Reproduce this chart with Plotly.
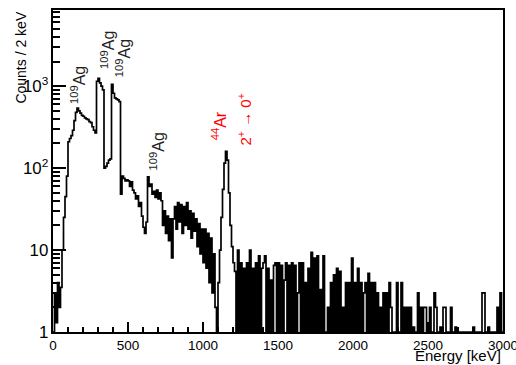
import plotly.graph_objects as go

# Gamma-ray energy spectrum, 10 keV display bins from 0 to 3000 keV
bin_width = 10
e_min, e_max = 0, 3000

counts_0000_0250 = [1.0, 3.0, 1.3, 4.0, 2.0, 3.5, 10, 25, 45, 80, 210, 230, 250, 290, 380,
                    480, 540, 500, 470, 440, 430, 410, 400, 390, 370]
counts_0250_0500 = [360, 320, 290, 270, 1150, 1250, 1100, 1000, 900, 100, 105, 115, 125, 130,
                    1050, 820, 720, 700, 680, 650, 48, 80, 75, 70, 72]
counts_0500_0750 = [70, 60, 68, 54, 50, 42, 46, 34, 38, 26, 19, 16, 22, 78, 60, 64, 48, 52,
                    44, 54, 42, 50, 40, 20, 30]
counts_0750_1000 = [16, 26, 13, 24, 8, 24, 34, 18, 38, 22, 36, 16, 34, 20, 38, 18, 30, 14,
                    28, 17, 24, 11, 21, 9, 18]
counts_1000_1250 = [7, 18, 6, 16, 4, 14, 3, 9, 2, 1, 4, 10, 25, 55, 115, 160, 125, 50, 20,
                    11, 7, 5.5, 1, 10, 1]
counts_1250_1500 = [7, 1, 6, 1, 7, 1, 10, 1, 6, 1, 7, 1, 8.5, 1, 6, 7, 8.5, 1, 6, 1,
                    4.3, 1, 6.5, 7, 1]
counts_1500_1750 = [7, 1, 6.5, 1, 4.3, 7, 1, 6.5, 1, 7, 1, 6.5, 1, 3, 7, 1, 7, 1, 4, 1,
                    6, 1, 9.4, 1, 8]
counts_1750_2000 = [1, 8.5, 1, 3.3, 1, 8.5, 1, 1, 2, 1, 4, 1, 5, 1, 6, 1, 5.5, 1, 2, 1,
                    4, 1, 4, 1, 8]
counts_2000_2250 = [1, 4, 1, 6, 1, 4, 1, 3, 4, 1, 5.2, 1, 4, 1, 4, 1, 3, 1, 2, 1, 3, 1, 3,
                    1, 4]
counts_2250_2500 = [2, 1, 1, 1, 4, 1, 1, 4, 1, 2, 1, 2, 1, 2, 1, 1.15, 1, 1, 3, 1, 2, 1, 2,
                    2, 1]
counts_2500_2750 = [1, 2, 1, 1, 3, 2, 1, 1, 1.15, 1, 2, 2, 1, 1, 1, 2, 1, 1, 1.15, 1, 1, 1,
                    1, 1, 1]
counts_2750_3000 = [1, 1, 1, 1, 1, 1.15, 1, 1, 1, 1, 1, 3, 3, 1, 1, 1.15, 1, 1, 1, 1, 1, 2,
                    1, 3, 1]

# tick spacing: labelled every 500 keV, minor every 100 keV; one decade per label on counts
x_major_step, x_minor_step = 500, 100
y_log_range = [0, 3.93]

counts = (counts_0000_0250 + counts_0250_0500 + counts_0500_0750 + counts_0750_1000
          + counts_1000_1250 + counts_1250_1500 + counts_1500_1750 + counts_1750_2000
          + counts_2000_2250 + counts_2250_2500 + counts_2500_2750 + counts_2750_3000)
lower_edges = [e_min + i * bin_width for i in range(len(counts))]

fig = go.Figure()
# step outline: each bin value held across its width, closed at the last edge
fig.add_trace(go.Scatter(
    x=lower_edges + [e_max], y=counts + [counts[-1]], mode="lines",
    line=dict(shape="hv", color="black", width=1.7),
))

tick_font = dict(family="Liberation Sans", color="black", size=13.5)

fig.update_layout(
    width=516, height=365,
    margin=dict(l=53, r=13, t=10, b=33, autoexpand=False),
    paper_bgcolor="white", plot_bgcolor="white",
    xaxis=dict(
        range=[e_min, e_max], layer="above traces",
        tick0=0, dtick=x_major_step,
        ticks="inside", ticklen=10, tickwidth=2, tickcolor="black",
        minor=dict(dtick=x_minor_step, ticks="inside", ticklen=5,
                   tickwidth=2, tickcolor="black"),
        tickfont=tick_font, ticklabeloverflow="allow",
        showline=True, linecolor="black", linewidth=2, mirror=True, showgrid=False,
    ),
    yaxis=dict(
        type="log", range=y_log_range, layer="above traces",
        dtick=1, exponentformat="power",
        ticks="inside", ticklen=13, tickwidth=2, tickcolor="black",
        minor=dict(dtick="D1", ticks="inside", ticklen=7,
                   tickwidth=2, tickcolor="black"),
        tickfont=tick_font,
        showline=True, linecolor="black", linewidth=2, mirror=True, showgrid=False,
    ),
)

# axis titles, aligned to the far ends of the axes
fig.add_annotation(text="Counts / 2 keV", xref="paper", yref="paper",
                   x=-0.072, y=1.0, xanchor="center", yanchor="top",
                   textangle=-90, showarrow=False,
                   font=dict(family="Liberation Sans", color="black", size=14))
fig.add_annotation(text="Energy [keV]", xref="paper", yref="paper",
                   x=1.0, y=-0.072, xanchor="right", yanchor="middle", showarrow=False,
                   font=dict(family="Liberation Sans", color="black", size=15))

# line identifications
ag_label = "<sup>109</sup>Ag"
ag_positions = [(171, 3.01), (365, 3.44), (472, 3.34), (691, 2.20)]
for ex, ly in ag_positions:
    fig.add_annotation(text=ag_label, x=ex, y=ly, xref="x", yref="y",
                       textangle=-90, showarrow=False,
                       font=dict(family="Liberation Sans", size=16, color="#222222"))

fig.add_annotation(text="<sup>44</sup>Ar", x=1105, y=2.52, xref="x", yref="y",
                   textangle=-90, showarrow=False,
                   font=dict(family="Liberation Sans", size=16, color="red"))
fig.add_annotation(text="2<sup>+</sup> \u2192 0<sup>+</sup>", x=1278, y=2.59,
                   xref="x", yref="y", textangle=-90, showarrow=False,
                   font=dict(family="Liberation Sans", size=15, color="red"))

fig.write_html("out.html")
